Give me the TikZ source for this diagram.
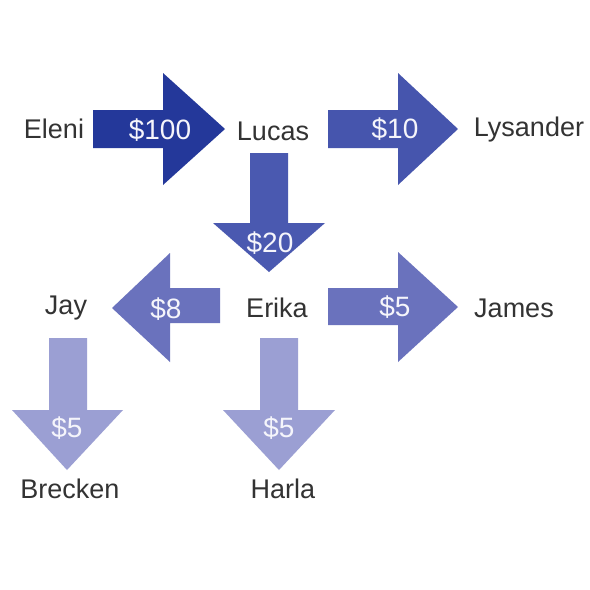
\documentclass[tikz,border=0pt]{standalone}
\usepackage{fontspec}
\setmainfont{Liberation Sans}
\definecolor{cA}{HTML}{24389A}
\definecolor{cB}{HTML}{4655AD}
\definecolor{cC}{HTML}{4A59B0}
\definecolor{cD}{HTML}{6A72BD}
\definecolor{cE}{HTML}{9B9FD3}
\definecolor{txt}{HTML}{333333}
\begin{document}
\begin{tikzpicture}[x=1pt,y=-1pt,
  pname/.style={font=\fontsize{27}{30}\selectfont, text=txt, inner sep=0pt},
  amt/.style={font=\fontsize{28}{31}\selectfont, text=white!90!cE, inner sep=0pt}]
\useasboundingbox (0,0) rectangle (590,590);
\fill[white] (0,0) rectangle (590,590);
% arrows
\fill[cA] (93,110) -- (163,110) -- (163,73) -- (225,129) -- (163,185) -- (163,148) -- (93,148) -- cycle;
\fill[cB] (328,110) -- (398,110) -- (398,73) -- (458,129) -- (398,185) -- (398,148) -- (328,148) -- cycle;
\fill[cC] (250,153) -- (288,153) -- (288,223) -- (325,223) -- (269,272) -- (213,223) -- (250,223) -- cycle;
\fill[cD] (220,288) -- (170,288) -- (170,253) -- (112,308) -- (170,362) -- (170,323) -- (220,323) -- cycle;
\fill[cD] (328,288) -- (398,288) -- (398,252) -- (458,307) -- (398,362) -- (398,325) -- (328,325) -- cycle;
\fill[cE] (49,338) -- (87,338) -- (87,410) -- (123,410) -- (67,470) -- (12,410) -- (49,410) -- cycle;
\fill[cE] (260,338) -- (298,338) -- (298,410) -- (335,410) -- (279,470) -- (223,410) -- (260,410) -- cycle;
% amounts
\node[amt] (a1) at (160,130) {\$100};
\node[amt] (a2) at (395,129) {\$10};
\node[amt] (a3) at (270,243) {\$20};
\node[amt] (a4) at (166,309) {\$8};
\node[amt] (a5) at (395,307) {\$5};
\node[amt] (a6) at (67,428) {\$5};
\node[amt] (a7) at (279,428) {\$5};
% names
\node[pname] (eleni) at (54,129) {Eleni};
\node[pname] (lucas) at (273,131) {Lucas};
\node[pname] (lysander) at (529,130) {Lysander};
\node[pname] (jay) at (66,308) {Jay};
\node[pname] (erika) at (277,308) {Erika};
\node[pname] (james) at (514,308) {James};
\node[pname] (brecken) at (70,489) {Brecken};
\node[pname] (harla) at (283,489) {Harla};
\end{tikzpicture}
\end{document}
